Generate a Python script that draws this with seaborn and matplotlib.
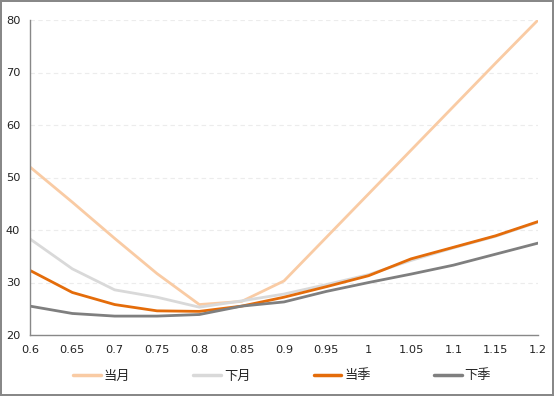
import pandas as pd
import seaborn as sns
import matplotlib.pyplot as plt

x_vals = [0.6, 0.65, 0.7, 0.75, 0.8, 0.85, 0.9, 0.95, 1.0, 1.05, 1.1, 1.15, 1.2]
x_labels = ['0.6', '0.65', '0.7', '0.75', '0.8', '0.85', '0.9', '0.95', '1', '1.05', '1.1', '1.15', '1.2']
dangyue = [52.0, 45.3, 38.4, 31.7, 25.8, 26.4, 30.3, 38.6, 46.9, 55.2, 63.5, 71.8, 80.0]
xiayue = [38.3, 32.6, 28.6, 27.2, 25.3, 26.5, 27.8, 29.6, 31.5, 34.2, 36.6, 38.8, 41.5]
dangji = [32.3, 28.1, 25.8, 24.6, 24.5, 25.5, 27.2, 29.2, 31.3, 34.5, 36.7, 38.9, 41.6]
xiaji = [25.5, 24.1, 23.6, 23.6, 23.9, 25.5, 26.3, 28.3, 30.0, 31.6, 33.3, 35.4, 37.5]
series_names = ['当月', '下月', '当季', '下季']
colors = ['#F9CBA4', '#D9D9D9', '#E46C0A', '#7F7F7F']

rows = []
for name, vals in zip(series_names, [dangyue, xiayue, dangji, xiaji]):
    for xv, yv in zip(x_vals, vals):
        rows.append({'x': xv, 'y': yv, 'series': name})
df = pd.DataFrame(rows)

sns.set_style('white')
plt.rcParams['font.family'] = ['DejaVu Sans']

fig = plt.figure(figsize=(5.54, 3.96), dpi=100)
fig.patch.set_edgecolor('#888888')
fig.patch.set_linewidth(1.5)
ax = fig.add_axes([30 / 554, 1 - 335 / 396, 508 / 554, 315 / 396])

sns.lineplot(data=df, x='x', y='y', hue='series', hue_order=series_names,
             palette=colors, linewidth=2.0, ax=ax, legend=False)

ax.set_xlim(0.6, 1.2)
ax.set_ylim(20, 80)
ax.set_xticks(x_vals)
ax.set_xticklabels(x_labels)
ax.set_yticks([20, 30, 40, 50, 60, 70, 80])
ax.set_xlabel('')
ax.set_ylabel('')
ax.yaxis.grid(True, linestyle=(0, (4, 3)), color='#ececec', linewidth=0.8)
ax.xaxis.grid(False)
for side in ['top', 'right']:
    ax.spines[side].set_visible(False)
for side in ['left', 'bottom']:
    ax.spines[side].set_color('#888888')
    ax.spines[side].set_linewidth(1.0)
ax.tick_params(axis='both', which='major', direction='out', length=4, width=1,
               color='#888888', labelsize=8.2, labelcolor='#222222', pad=3)

handles = [plt.Line2D([], [], color=c, linewidth=2.5) for c in colors]
fig.legend(handles, series_names, loc='center', bbox_to_anchor=(0.509, 1 - 376 / 396),
           ncol=4, frameon=False, handlelength=2.1, handletextpad=0.2,
           columnspacing=4.8, prop={'family': ['Noto Sans CJK SC'], 'size': 9.5})

fig.savefig('out.png', dpi=100, edgecolor=fig.get_edgecolor())
